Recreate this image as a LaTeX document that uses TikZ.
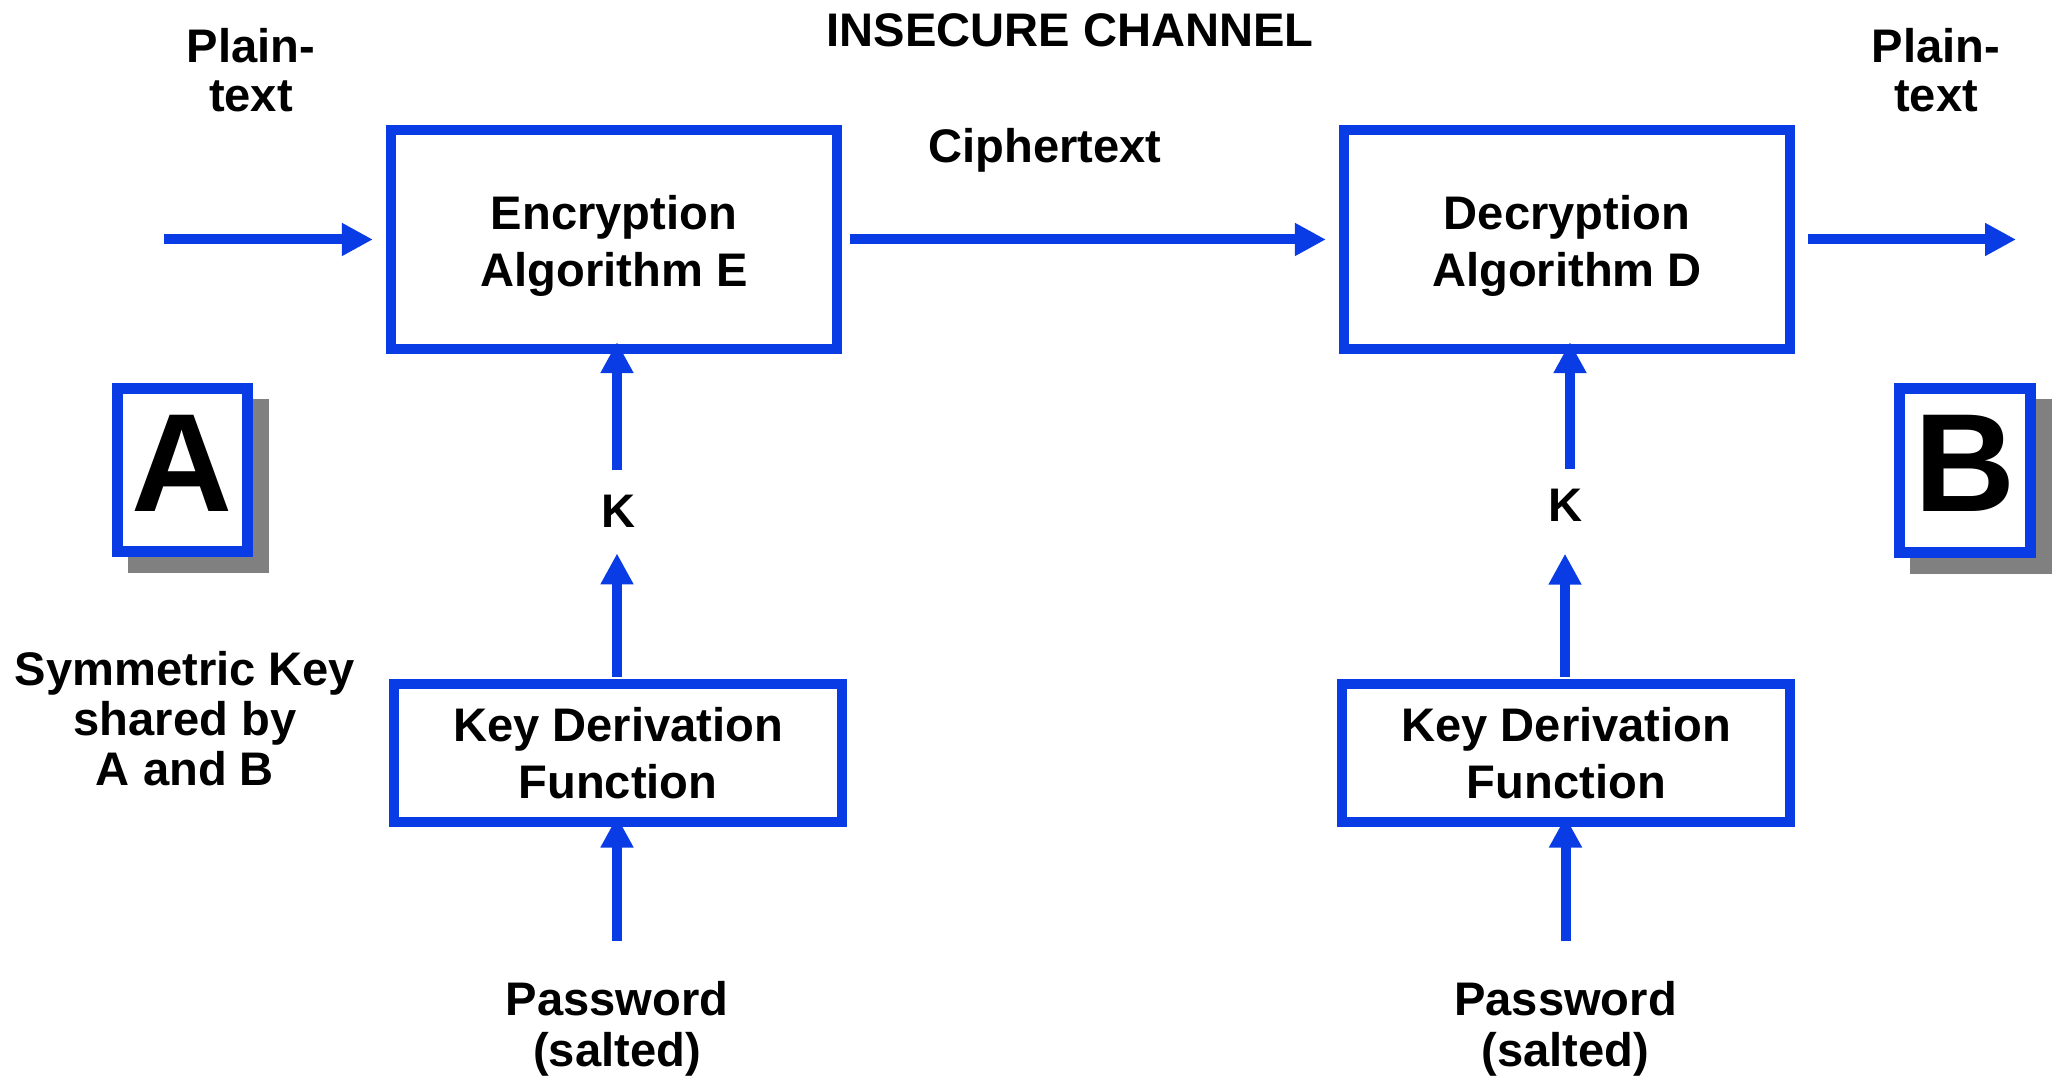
\documentclass[tikz,border=0pt]{standalone}
\usepackage{fontspec}
\setmainfont{Liberation Sans}
\usetikzlibrary{arrows.meta,calc,backgrounds}
\definecolor{flowblue}{RGB}{10,60,230}
\definecolor{shadowgray}{RGB}{128,128,128}

\begin{document}
\begin{tikzpicture}[x=0.01cm,y=-0.01cm,
  every node/.style={inner sep=0pt},
  lbl/.style={font={\bfseries\fontsize{13.4pt}{#1}\selectfont}, align=center},
  lbl/.default=16pt,
  blockbox/.style={draw=flowblue, line width=0.1cm, fill=white,
    minimum width=4.46cm, minimum height=2.19cm, lbl=16.3pt},
  kdfbox/.style={draw=flowblue, line width=0.1cm, fill=white,
    minimum width=4.48cm, minimum height=1.38cm, lbl=16.1pt},
  letterbox/.style={draw=flowblue, line width=0.11cm, fill=white,
    minimum width=1.3cm, minimum height=1.63cm,
    font={\bfseries\fontsize{39.8pt}{44pt}\selectfont}},
  flow/.style={draw=flowblue, line width=0.1cm,
    -{Triangle[length=0.31cm,width=0.31cm]}}
]
\useasboundingbox (0,0) rectangle (2058,1077);

% processing blocks
\node[blockbox] (enc) at (614,239.5) {\rule{0pt}{0.47cm}Encryption\\Algorithm E};
\node[blockbox] (dec) at (1567,239.5) {\rule{0pt}{0.47cm}Decryption\\Algorithm D};
\node[kdfbox] (kdfE) at (618,753) {Key Derivation\\Function};
\node[kdfbox] (kdfD) at (1566.3,753) {Key Derivation\\Function};

% parties
\node[letterbox] (A) at (182.5,470) {\rule[-0.14cm]{0pt}{0.14cm}A};
\node[letterbox] (B) at (1965,470.5) {\rule[-0.15cm]{0pt}{0.15cm}B};
\begin{scope}[on background layer]
  \fill[shadowgray] ($(A.north west)+(16,16)$) rectangle ($(A.south east)+(16,16)$);
  \fill[shadowgray] ($(B.north west)+(16,16)$) rectangle ($(B.south east)+(16,16)$);
\end{scope}

% labels
\node[lbl, anchor=base] (chan) at (1070,46.7) {INSECURE CHANNEL};
\node[lbl, anchor=base] (ctext) at (1045,162.7) {Ciphertext};
\node[lbl=13.75pt, anchor=north] (ptL) at (251,27.9) {\strut Plain-\\text};
\node[lbl=13.75pt, anchor=north] (ptR) at (1936,27.9) {\strut Plain-\\text};
\node[lbl=14.2pt, anchor=north] (sym) at (185,650) {\strut Symmetric Key\\shared by\\A and B};
\node[lbl, anchor=base] (kE) at (619,527.3) {K};
\node[lbl, anchor=base] (kD) at (1565,521.7) {K};
\node[lbl=14.5pt, anchor=north] (pwE) at (617,979.3) {\strut Password\\(salted)};
\node[lbl=14.5pt, anchor=north] (pwD) at (1565.5,979.3) {\strut Password\\(salted)};

% data path
\coordinate (ptin) at (164,239.5);
\coordinate (ptout) at (2016,239.5);
\draw[flow] (ptin) -- ($(enc.west)+(-13,0)$);
\draw[flow] ($(enc.east)+(8,0)$) -- ($(dec.west)+(-13,0)$);
\draw[flow] ($(dec.east)+(13,0)$) -- (ptout);

% key path, sender side
\draw[flow] ($(kE.north)+(-2,-24.5)$) -- ($(kE.north |- enc.south)+(-2,-12)$);
\draw[flow] ($(kE.south |- kdfE.north)+(-2,-2)$) -- ($(kE.south)+(-2,25.4)$);
\draw[flow] ($(pwE.north)+(0,-38.6)$) -- ($(pwE.north |- kdfE.south)+(0,-10.5)$);

% key path, receiver side
\draw[flow] ($(kD.north)+(5,-19.5)$) -- ($(kD.north |- dec.south)+(5,-12)$);
\draw[flow] ($(kD.south |- kdfD.north)+(0,-2)$) -- ($(kD.south)+(0,31.3)$);
\draw[flow] ($(pwD.north)+(0,-38.6)$) -- ($(pwD.north |- kdfD.south)+(0,-10.5)$);
\end{tikzpicture}
\end{document}
